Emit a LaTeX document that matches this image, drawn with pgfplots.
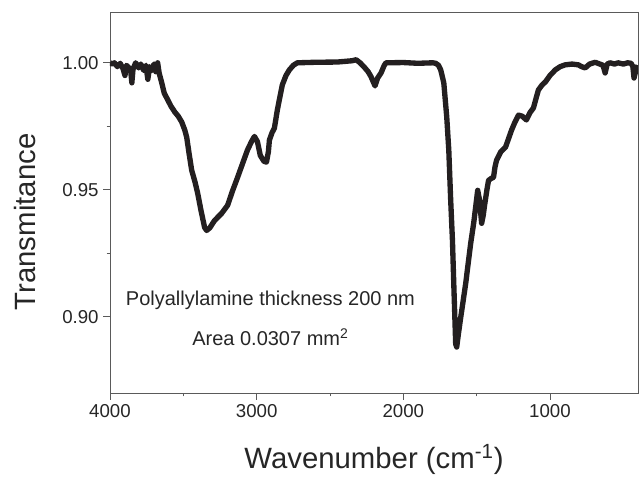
\documentclass[border=0pt]{standalone}
\usepackage{fontspec}
\setmainfont{Liberation Sans}
\usepackage{pgfplots}
\pgfplotsset{compat=1.18}

\definecolor{curve}{RGB}{35,31,32}
\definecolor{frame}{RGB}{90,90,90}

\pgfplotstableread{
x y
4000 1.0000
3985 0.9995
3970 1.0000
3950 0.9985
3930 0.9998
3910 0.9975
3898 0.9950
3888 0.9990
3870 0.9980
3858 0.9965
3851 0.9921
3843 0.9975
3825 1.0000
3805 0.9980
3790 0.9995
3770 0.9970
3755 0.9990
3742 0.9935
3730 0.9985
3715 0.9970
3700 0.9995
3688 0.9965
3675 1.0000
3665 0.9960
3647 0.9921
3630 0.9880
3606 0.9854
3585 0.9830
3558 0.9806
3535 0.9790
3511 0.9767
3490 0.9735
3477 0.9707
3460 0.9640
3443 0.9577
3420 0.9530
3402 0.9486
3380 0.9420
3355 0.9352
3341 0.9340
3320 0.9350
3287 0.9379
3260 0.9395
3239 0.9407
3198 0.9439
3165 0.9495
3130 0.9549
3095 0.9605
3063 0.9656
3035 0.9690
3015 0.9710
2995 0.9690
2975 0.9635
2950 0.9612
2933 0.9609
2920 0.9650
2913 0.9696
2895 0.9725
2879 0.9743
2859 0.9814
2840 0.9870
2825 0.9913
2800 0.9950
2777 0.9972
2750 0.9990
2723 1.0000
2600 1.0002
2450 1.0003
2350 1.0008
2322 1.0012
2295 1.0000
2268 0.9984
2240 0.9965
2220 0.9945
2205 0.9925
2193 0.9909
2175 0.9940
2152 0.9960
2130 0.9990
2118 1.0000
2000 1.0001
1900 0.9998
1800 1.0000
1779 0.9998
1760 0.9990
1745 0.9972
1724 0.9921
1704 0.9787
1690 0.9656
1677 0.9458
1665 0.9300
1656 0.9130
1643 0.8893
1636 0.8881
1625 0.8930
1609 0.8996
1575 0.9130
1541 0.9288
1520 0.9370
1507 0.9431
1493 0.9498
1480 0.9458
1466 0.9368
1455 0.9400
1446 0.9439
1430 0.9500
1419 0.9537
1400 0.9545
1385 0.9549
1375 0.9590
1364 0.9617
1335 0.9650
1303 0.9668
1262 0.9735
1240 0.9765
1215 0.9794
1190 0.9790
1161 0.9775
1135 0.9805
1113 0.9822
1095 0.9860
1079 0.9893
1055 0.9912
1031 0.9925
1000 0.9950
964 0.9972
930 0.9985
896 0.9992
850 0.9995
807 0.9992
785 0.9985
760 0.9980
730 0.9995
692 1.0002
660 0.9995
638 0.9990
624 0.9960
610 0.9995
590 1.0000
560 0.9995
536 1.0000
500 0.9995
470 1.0000
447 0.9998
435 0.9985
427 0.9940
415 0.9970
400 0.9990
}\spectrum

\begin{document}
\begin{tikzpicture}
\useasboundingbox (-82.5pt,-63pt) rectangle (396.75pt,294.75pt);
\begin{axis}[
  scale only axis,
  width=396pt, height=285.75pt,
  x dir=reverse,
  xmin=400, xmax=4000, ymin=0.87, ymax=1.02,
  xtick={1000,2000,3000,4000},
  ytick={0.90,0.95,1.00},
  minor x tick num=1, minor y tick num=1,
  xtick pos=bottom, ytick pos=left,
  tick align=outside,
  major tick length=5pt, minor tick length=2.5pt,
  axis line style={frame, line width=0.6pt},
  every tick/.style={frame, line width=0.6pt},
  /pgf/number format/assume math mode=true,
  xticklabel style={/pgf/number format/set thousands separator={}, font=\fontsize{14}{16}\selectfont, text=black!85},
  yticklabel style={/pgf/number format/fixed, /pgf/number format/fixed zerofill, /pgf/number format/precision=2, font=\fontsize{14}{16}\selectfont, text=black!85},
  xlabel={Wavenumber (cm\textsuperscript{-1})},
  ylabel={Transmitance},
  xlabel style={font=\fontsize{22}{26}\selectfont, text=black!85, at={(axis description cs:0.5,0)}, anchor=base, yshift=-57pt},
  ylabel style={font=\fontsize{22}{26}\selectfont, text=black!85, at={(axis description cs:0,0.449)}, anchor=base, yshift=55.5pt},
]
\addplot[curve, line width=4pt, line join=round] table[x=x, y=y] {\spectrum};
\node[font=\fontsize{15}{18}\selectfont, text=black!85] at (axis cs:2906,0.9063) {Polyallylamine thickness 200 nm};
\node[font=\fontsize{15}{18}\selectfont, text=black!85] at (axis cs:2906,0.8921) {Area 0.0307 mm\textsuperscript{2}};
\end{axis}
\end{tikzpicture}
\end{document}
